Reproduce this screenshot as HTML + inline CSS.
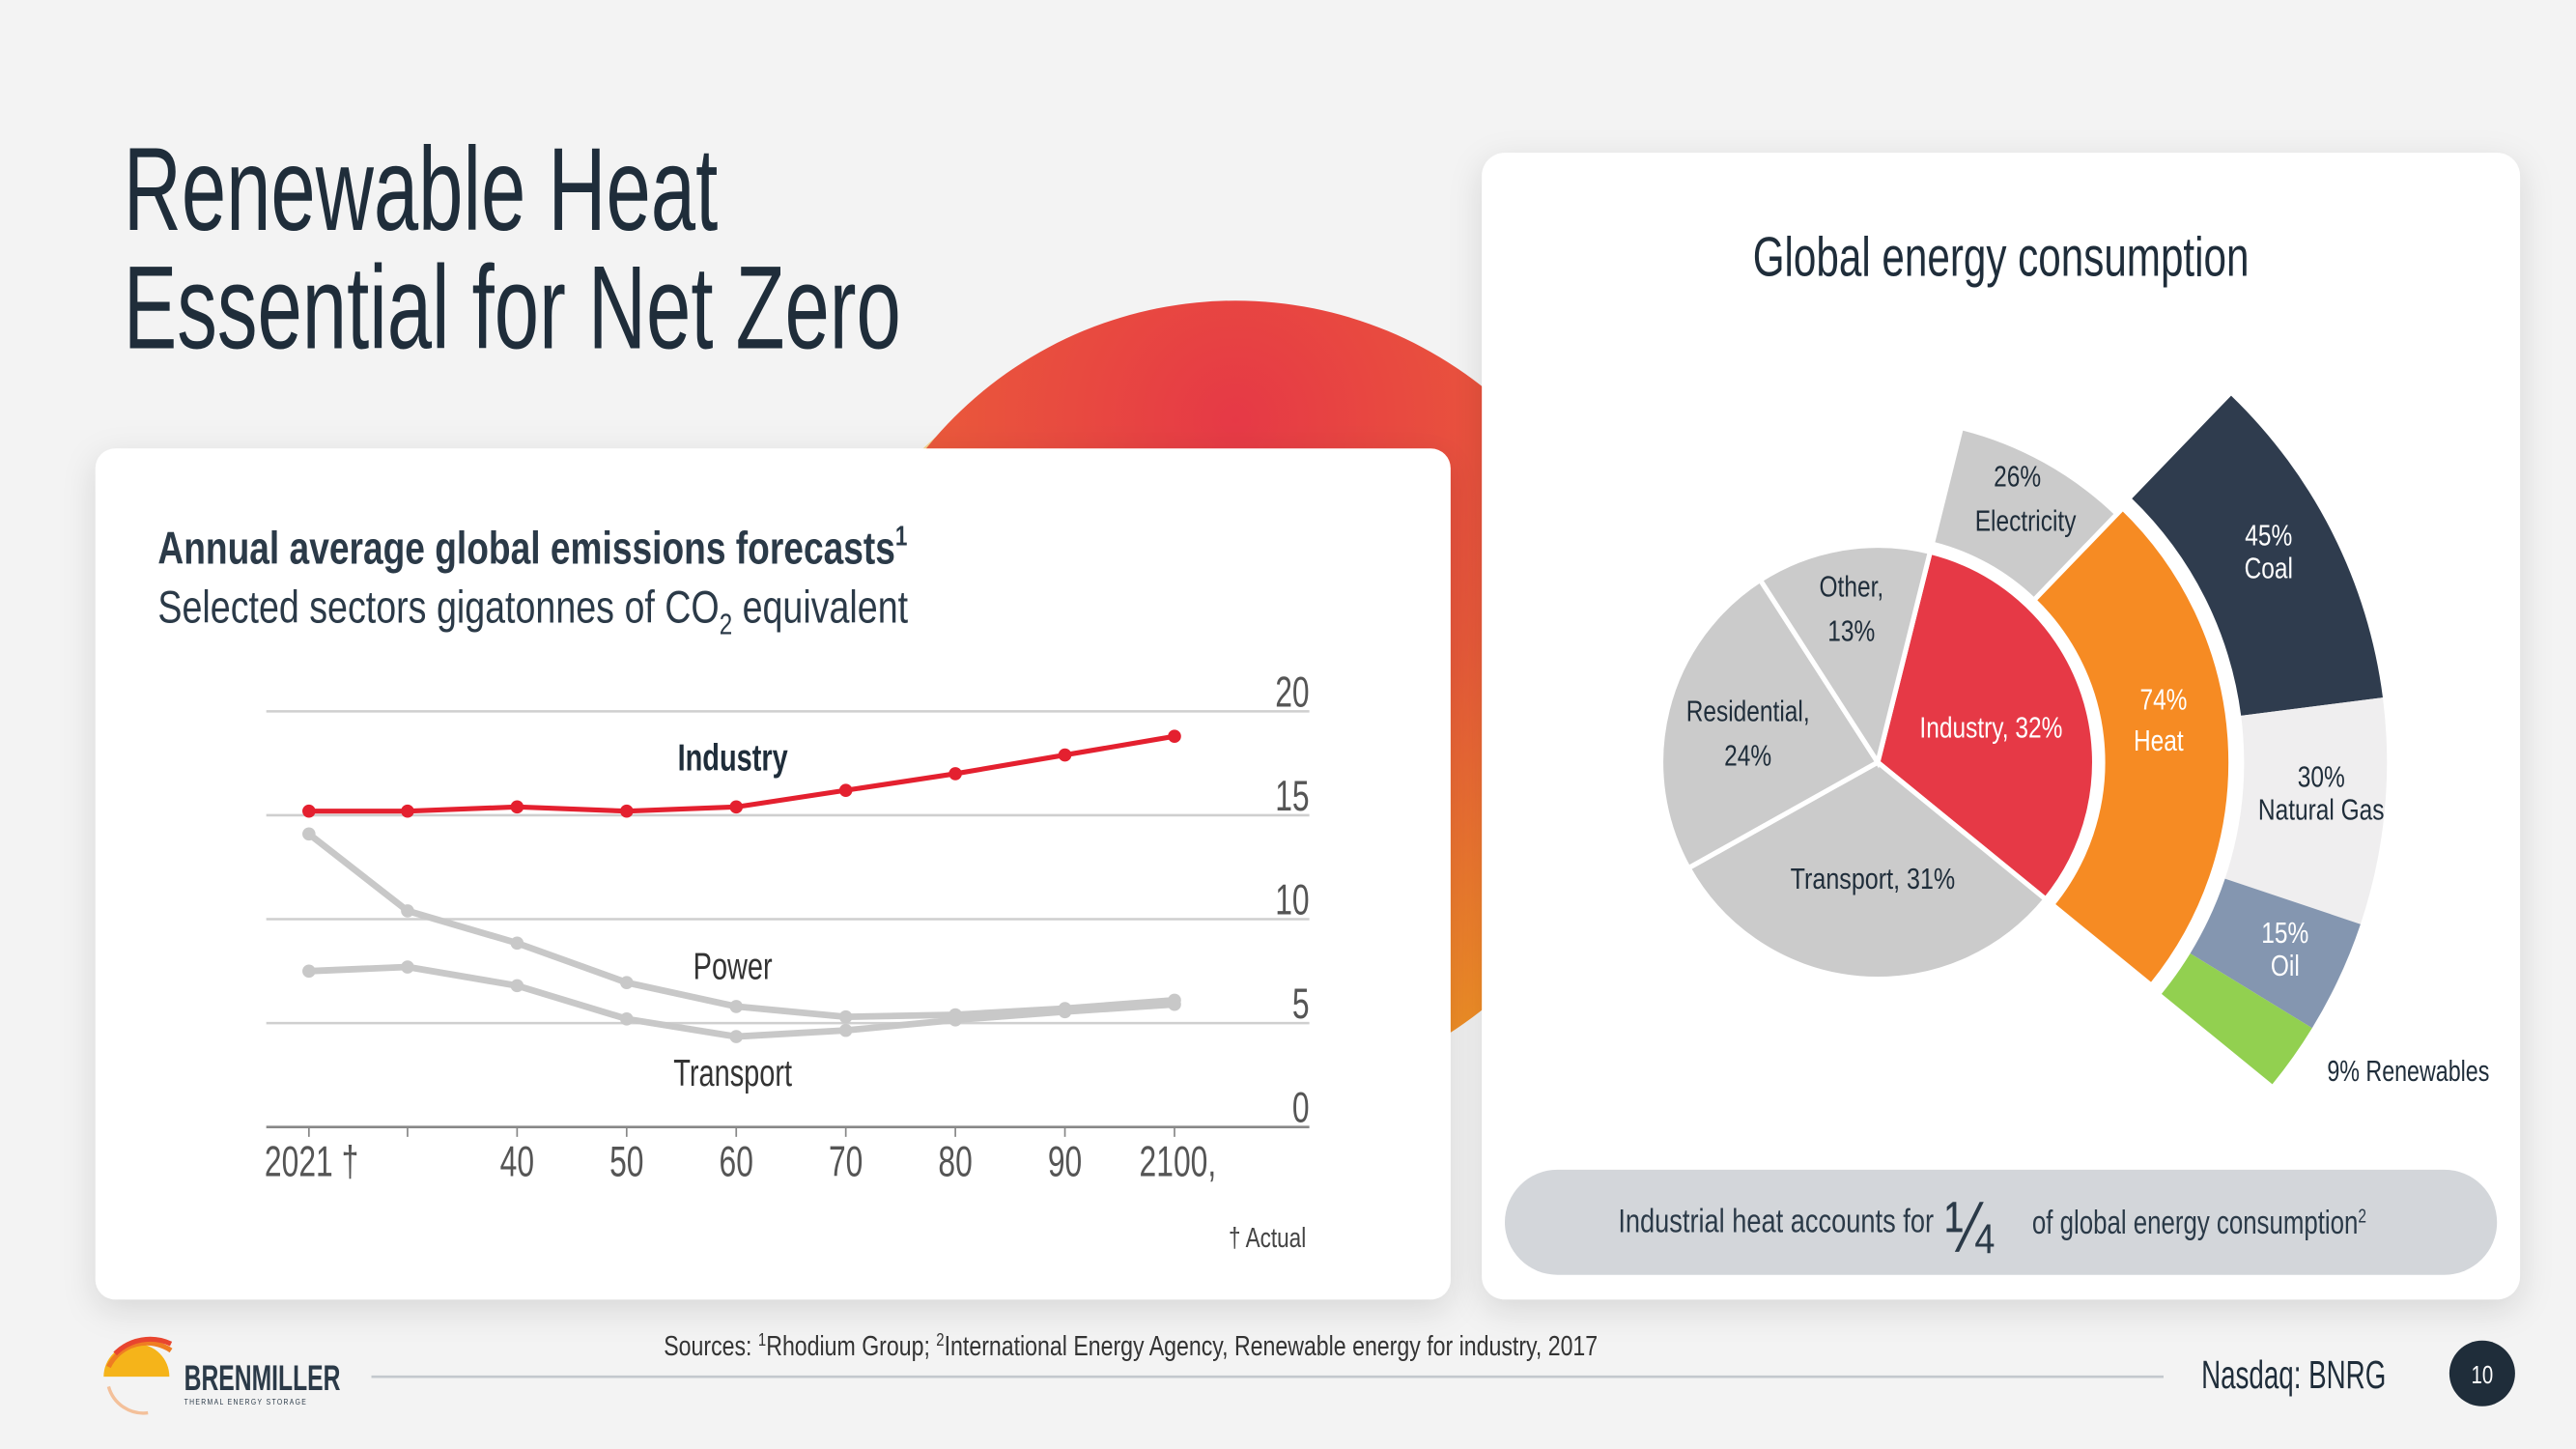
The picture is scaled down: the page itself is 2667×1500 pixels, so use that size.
<!DOCTYPE html>
<html><head><meta charset="utf-8"><style>
html,body{margin:0;padding:0;background:#f3f3f3;}
svg{display:block;}
text{font-family:"Liberation Sans Narrow","Liberation Sans",sans-serif;}
</style></head><body>
<svg id="root" width="2667" height="1500" viewBox="0 0 1568 882" xmlns="http://www.w3.org/2000/svg">
<defs>
<radialGradient id="sun" cx="0.5" cy="0.15" r="0.9">
<stop offset="0" stop-color="#e63946"/><stop offset="0.45" stop-color="#ea5a3a"/><stop offset="1" stop-color="#f29a22"/>
</radialGradient>
<filter id="sh" x="-10%" y="-10%" width="120%" height="130%"><feDropShadow dx="0" dy="6" stdDeviation="10" flood-color="#000" flood-opacity="0.12"/></filter>
</defs>
<rect width="1568" height="882" fill="#f3f3f3"/>
<circle cx="720" cy="440" r="230" fill="#f6c866" opacity="0.7"/>
<circle cx="752" cy="425" r="242" fill="url(#sun)"/>

<text x="75" y="140" font-size="72" fill="#1f2d3a" data-sx="0.68">Renewable Heat</text>
<text x="75" y="212" font-size="72" fill="#1f2d3a" data-sx="0.68">Essential for Net Zero</text>

<rect x="58" y="273" width="825" height="518" rx="12" fill="#fff" filter="url(#sh)"/>
<rect x="902" y="93" width="632" height="698" rx="14" fill="#fff" filter="url(#sh)"/>

<text x="96" y="343" font-size="28" font-weight="bold" fill="#2b3a48" data-sx="0.78">Annual average global emissions forecasts<tspan font-size="17" dy="-11">1</tspan></text>
<text x="96" y="379" font-size="28" fill="#2b3a48" data-sx="0.79">Selected sectors gigatonnes of CO<tspan font-size="18" dy="7">2</tspan><tspan dy="-7"> equivalent</tspan></text>

<g id="linechart"></g>

<text x="446" y="469" font-size="23" font-weight="bold" fill="#1f2d3a" text-anchor="middle" data-sx="0.74">Industry</text>
<text x="446" y="596" font-size="23" fill="#333" text-anchor="middle" data-sx="0.74">Power</text>
<text x="446" y="661" font-size="23" fill="#333" text-anchor="middle" data-sx="0.74">Transport</text>
<text x="795" y="759" font-size="17" fill="#444" text-anchor="end" data-sx="0.78">† Actual</text>

<text x="1218" y="168" font-size="34" fill="#1f2d3a" text-anchor="middle" data-sx="0.73">Global energy consumption</text>
<g id="pie"></g>
<g font-size="18" text-anchor="middle" fill="#1f2d3a">
<text x="1228" y="296" data-sx="0.8">26%</text>
<text x="1233" y="323" data-sx="0.8">Electricity</text>
<text x="1381" y="332" fill="#fff" data-sx="0.8">45%</text>
<text x="1381" y="352" fill="#fff" data-sx="0.8">Coal</text>
<text x="1317" y="432" fill="#fff" data-sx="0.8">74%</text>
<text x="1314" y="457" fill="#fff" data-sx="0.8">Heat</text>
<text x="1212" y="449" fill="#fff" data-sx="0.8">Industry, 32%</text>
<text x="1127" y="363" data-sx="0.8">Other,</text>
<text x="1127" y="390" data-sx="0.8">13%</text>
<text x="1064" y="439" data-sx="0.8">Residential,</text>
<text x="1064" y="466" data-sx="0.8">24%</text>
<text x="1140" y="541" data-sx="0.82">Transport, 31%</text>
<text x="1413" y="479" data-sx="0.8">30%</text>
<text x="1413" y="499" data-sx="0.8">Natural Gas</text>
<text x="1391" y="574" fill="#fff" data-sx="0.8">15%</text>
<text x="1391" y="594" fill="#fff" data-sx="0.8">Oil</text>
<text x="1466" y="658" data-sx="0.76">9% Renewables</text>
</g>

<rect x="916" y="712" width="604" height="64" rx="32" fill="#d3d6da"/>
<text x="985" y="750" font-size="20" fill="#2b3a48" data-sx="0.8">Industrial heat accounts for</text>
<text x="1184" y="762" font-size="44" fill="#2b3a48" data-sx="0.8">¼</text>
<text x="1237" y="751" font-size="20" fill="#2b3a48" data-sx="0.76">of global energy consumption<tspan font-size="12" dy="-7">2</tspan></text>

<text x="404" y="825" font-size="17" fill="#333" data-sx="0.8">Sources: <tspan font-size="11" dy="-6">1</tspan><tspan dy="6">Rhodium Group; </tspan><tspan font-size="11" dy="-6">2</tspan><tspan dy="6">International Energy Agency, Renewable energy for industry, 2017</tspan></text>
<line x1="226" y1="838" x2="1317" y2="838" stroke="#c3c8cd" stroke-width="1.5"/>
<g>
<path d="M63 838 A20 20 0 0 1 103 838 Z" fill="#f5b41a"/>
<path d="M66 832 A26 26 0 0 1 104 822" fill="none" stroke="#ef7d22" stroke-width="3"/>
<path d="M70 824 A30 30 0 0 1 104 818" fill="none" stroke="#e8452f" stroke-width="3"/>
<path d="M66 844 A22 22 0 0 0 90 860" fill="none" stroke="#f3c09a" stroke-width="2"/>
<text x="112" y="846" font-size="22" font-weight="bold" fill="#2b3a48" data-sx="0.66">BRENMILLER</text>
<text x="112" y="855" font-size="5" fill="#2b3a48" letter-spacing="1" data-sx="0.8">THERMAL ENERGY STORAGE</text>
</g>
<text x="1340" y="845" font-size="24" fill="#1f2d3a" data-sx="0.68">Nasdaq: BNRG</text>
<circle cx="1511" cy="836" r="20" fill="#1f2d3a"/>
<text x="1511" y="842" font-size="15" fill="#fff" text-anchor="middle" data-sx="0.8">10</text>
</svg>
<script>
const years = [2021, 2030, 2040, 2050, 2060, 2070, 2080, 2090, 2100];
const yearLabels = ["2021 †", "", "40", "50", "60", "70", "80", "90", "2100,"];
const industryVals = [15.2, 15.2, 15.4, 15.2, 15.4, 16.2, 17.0, 17.9, 18.8];
const powerVals = [14.1, 10.4, 8.85, 6.95, 5.8, 5.3, 5.4, 5.7, 6.1];
const transportVals = [7.5, 7.7, 6.8, 5.2, 4.35, 4.65, 5.15, 5.55, 5.9];
const yTicks = [0, 5, 10, 15, 20];

const innerCats = ["Industry", "Transport", "Residential", "Other"];
const innerVals = [32, 31, 24, 13];
const heatCats = ["Electricity", "Heat"];
const heatVals = [26, 74];
const fuelCats = ["Coal", "Natural Gas", "Oil", "Renewables"];
const fuelVals = [45, 30, 15, 9];

const NS = "http://www.w3.org/2000/svg";
function mk(tag, attrs, parent){const e=document.createElementNS(NS,tag);for(const k in attrs)e.setAttribute(k,attrs[k]);parent.appendChild(e);return e;}

const lc = document.getElementById('linechart');
const xS = y => 248 + (y - 2030) * 6.67;
const yS = v => 686 - v * 12.65;
yTicks.forEach(t => {
  if (t > 0) {
    const g = mk('line', {x1:162, x2:797, y1:yS(t), y2:yS(t), stroke:'#cfcfcf', 'stroke-width':1.5}, lc);
    
    
  }
  const tx = mk('text', {x:797, y:yS(t)-3, 'font-size':26, fill:'#555', 'text-anchor':'end', 'data-sx':0.72}, lc);
  tx.textContent = t;
  
  
});
const ax = mk('line', {x1:162, x2:797, y1:686, y2:686, stroke:'#888', 'stroke-width':1.5}, lc);


years.forEach((y, i) => {
  const tk = mk('line', {x1:xS(y), x2:xS(y), y1:686, y2:692, stroke:'#888', 'stroke-width':1}, lc);
  
  
  if (yearLabels[i]) {
    const tx = mk('text', {x: i===0 ? xS(y)-27 : xS(y), y:716, 'font-size':26, fill:'#555', 'text-anchor': i===0 ? 'start' : 'middle', 'data-sx':0.72}, lc);
    if (i === 8) tx.setAttribute('x', xS(y) + 2);
    tx.textContent = yearLabels[i];
    
    
  }
});
function series(vals, color, name, w){
  const pts = vals.map((v,i)=>xS(years[i])+','+yS(v)).join(' ');
  const pl = mk('polyline', {points:pts, fill:'none', stroke:color, 'stroke-width':w, 'stroke-linejoin':'round'}, lc);
  
  
  vals.forEach((v,i)=>{
    const c = mk('circle', {cx:xS(years[i]), cy:yS(v), r:4, fill:color}, lc);
    
    
  });
}
series(transportVals, '#c8c8c8', 'transport', 4);
series(powerVals, '#c8c8c8', 'power', 4);
series(industryVals, '#e4202f', 'industry', 3);

const pie = document.getElementById('pie');
const CX = 1143, CY = 464;
function pt(r,a){const t=a*Math.PI/180;return [CX+r*Math.cos(t), CY+r*Math.sin(t)];}
function arc(r0,r1,a0,a1){
  const large = (a1-a0)>180?1:0;
  const p1=pt(r1,a0), p2=pt(r1,a1);
  if (r0===0) return `M${CX},${CY} L${p1} A${r1},${r1} 0 ${large} 1 ${p2} Z`;
  const p3=pt(r0,a1), p4=pt(r0,a0);
  return `M${p1} A${r1},${r1} 0 ${large} 1 ${p2} L${p3} A${r0},${r0} 0 ${large} 0 ${p4} Z`;
}
const innerColors = ['#e63946', '#cbcbcb', '#cbcbcb', '#cbcbcb'];
let a = -76;
innerVals.forEach((v,i)=>{
  const span = v*3.6;
  const p = mk('path', {d:arc(0,132,a,a+span), fill:innerColors[i], stroke:'#fff', 'stroke-width':3}, pie);
  
  
  a += span;
});
const indStart = -76, indSpan = innerVals[0]*3.6;
const heatTotal = heatVals.reduce((s,v)=>s+v,0);
const heatColors = ['#cbcbcb', '#f68b23'];
const heatOuter = [210, 215];
a = indStart;
heatVals.forEach((v,i)=>{
  const span = v/heatTotal*indSpan;
  const p = mk('path', {d:arc(137,heatOuter[i],a,a+span), fill:heatColors[i], stroke:'#fff', 'stroke-width':3}, pie);
  
  
  a += span;
});
const heatStart = indStart + heatVals[0]/heatTotal*indSpan;
const heatSpan = heatVals[1]/heatTotal*indSpan;
const fuelTotal = fuelVals.reduce((s,v)=>s+v,0);
const fuelColors = ['#2f3c4e', '#efeeef', '#8496b0', '#92d050'];
a = heatStart;
fuelVals.forEach((v,i)=>{
  const span = v/fuelTotal*heatSpan;
  const p = mk('path', {d:arc(223,310,a,a+span), fill:fuelColors[i]}, pie);
  
  
  a += span;
});

// condense text horizontally (narrow font substitute)
document.querySelectorAll('text[data-sx]').forEach(t=>{
  const k = parseFloat(t.getAttribute('data-sx'));
  const x = parseFloat(t.getAttribute('x'));
  t.setAttribute('transform', `translate(${x*(1-k)},0) scale(${k},1)`);
});
</script>
</body></html>
